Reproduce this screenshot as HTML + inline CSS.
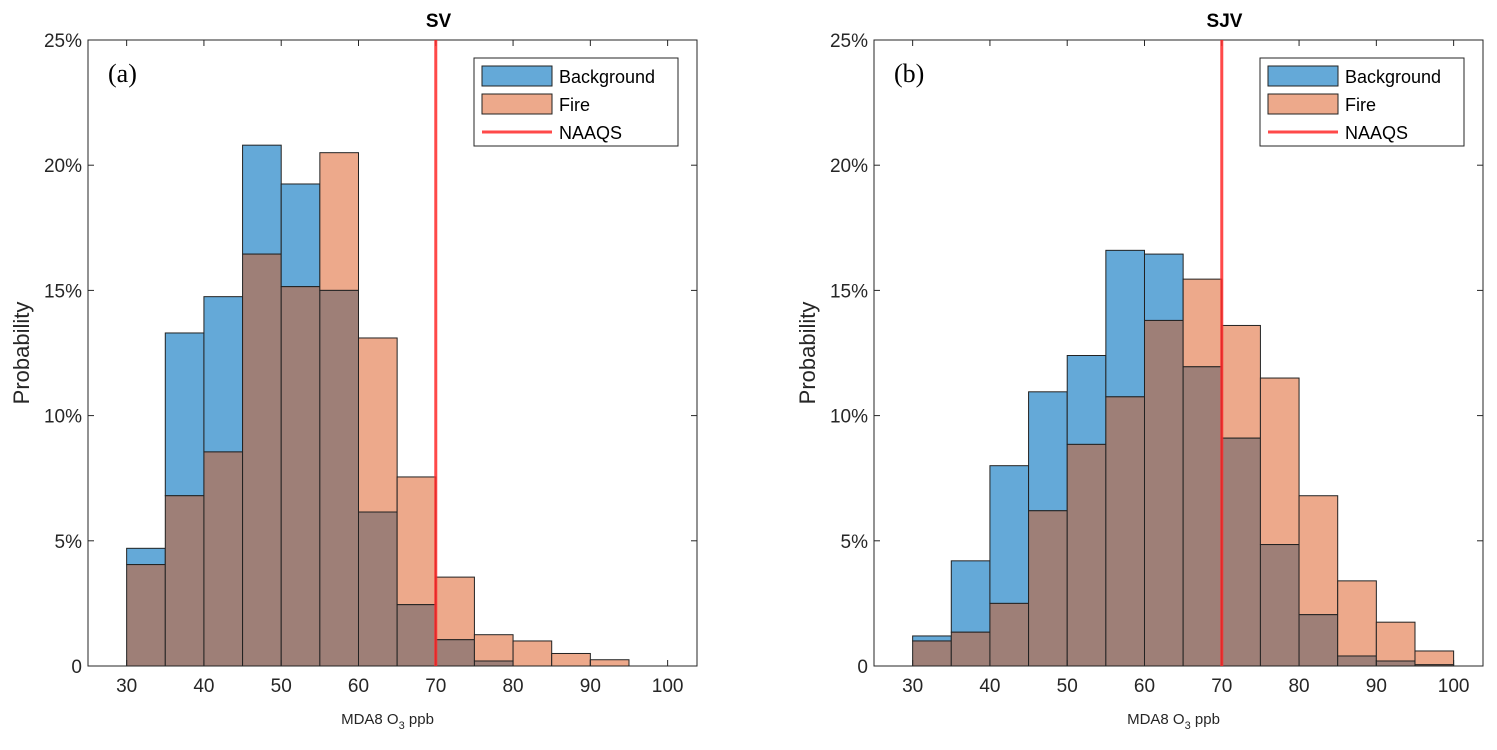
<!DOCTYPE html>
<html><head><meta charset="utf-8"><style>
body{margin:0;background:#fff}
svg{display:block;font-family:"Liberation Sans",Arial,sans-serif}
</style></head><body>
<svg id="chart" width="1497" height="750"></svg>
<script>
const binStarts=[30,35,40,45,50,55,60,65,70,75,80,85,90,95];
const yTicks=[0,5,10,15,20,25];
const yTickLabels=["0","5%","10%","15%","20%","25%"];
const xTicks=[30,40,50,60,70,80,90,100];
const svBackground=[4.7,13.3,14.75,20.8,19.25,15.0,6.15,2.45,1.05,0.2,0,0,0,0];
const svFire=[4.05,6.8,8.55,16.45,15.15,20.5,13.1,7.55,3.55,1.25,1.0,0.5,0.25,0];
const sjvBackground=[1.2,4.2,8.0,10.95,12.4,16.6,16.45,11.95,9.1,4.85,2.05,0.4,0.2,0.05];
const sjvFire=[1.0,1.35,2.5,6.2,8.85,10.75,13.8,15.45,13.6,11.5,6.8,3.4,1.75,0.6];
const naaqs=70;
const panels=[
 {title:"SV",tag:"(a)",left:88,bg:svBackground,fire:svFire,id:"sv"},
 {title:"SJV",tag:"(b)",left:874,bg:sjvBackground,fire:sjvFire,id:"sjv"}
];
const NS="http://www.w3.org/2000/svg";
const svg=document.getElementById('chart');
function mk(tag,attrs,parent,text){const e=document.createElementNS(NS,tag);for(const k in attrs)e.setAttribute(k,attrs[k]);if(text!==undefined)e.textContent=text;(parent||svg).appendChild(e);return e;}
const axTop=40,axBottom=666,W=609,xMin=25,xMax=103.8;
panels.forEach(p=>{
 const g=mk('g',{});
 
 
 const xs=v=>p.left+(v-xMin)/(xMax-xMin)*W;
 const ys=v=>axBottom-v/25*(axBottom-axTop);
 const ax=mk('rect',{x:p.left,y:axTop,width:W,height:axBottom-axTop,fill:'#fff',stroke:'#262626','stroke-width':1},g);
 
 
 binStarts.forEach((b,i)=>{
  const x0=xs(b),x1=xs(b+5);
  const bgv=p.bg[i],fv=p.fire[i],mn=Math.min(bgv,fv);
  if(bgv>mn){const r=mk('rect',{x:x0,y:ys(bgv),width:x1-x0,height:ys(mn)-ys(bgv),fill:'#64a9d8',stroke:'#222','stroke-width':1},g);
   
   }
  if(fv>mn){const r=mk('rect',{x:x0,y:ys(fv),width:x1-x0,height:ys(mn)-ys(fv),fill:'#eda98b',stroke:'#222','stroke-width':1},g);
   
   }
  if(mn>0){const r=mk('rect',{x:x0,y:ys(mn),width:x1-x0,height:axBottom-ys(mn),fill:'#9e7f77',stroke:'#222','stroke-width':1},g);
   
   }
 });
 yTicks.forEach((t,i)=>{
  const y=ys(t);
  mk('line',{x1:p.left,x2:p.left+6,y1:y,y2:y,stroke:'#262626'},g);
  mk('line',{x1:p.left+W,x2:p.left+W-6,y1:y,y2:y,stroke:'#262626'},g);
  const tx=mk('text',{x:p.left-6,y:y+7,'text-anchor':'end','font-size':19,fill:'#262626'},g,yTickLabels[i]);
  
  
 });
 xTicks.forEach(t=>{
  const x=xs(t);
  mk('line',{x1:x,x2:x,y1:axBottom,y2:axBottom-6,stroke:'#262626'},g);
  mk('line',{x1:x,x2:x,y1:axTop,y2:axTop+6,stroke:'#262626'},g);
  const tx=mk('text',{x:x,y:axBottom+26,'text-anchor':'middle','font-size':19,fill:'#262626'},g,t);
  
  
 });
 const nl=mk('line',{x1:xs(naaqs),x2:xs(naaqs),y1:axTop,y2:axBottom,stroke:'#ff2a2a','stroke-width':3,opacity:0.85},g);
 
 
 const ti=mk('text',{x:p.left+W/2+46,y:27,'text-anchor':'middle','font-size':19,'font-weight':'bold',fill:'#000'},g,p.title);
 
 
 const tg=mk('text',{x:p.left+20,y:82,'font-size':26,'font-family':'Liberation Serif,serif',fill:'#000'},g,p.tag);
 
 
 const yl=mk('text',{x:0,y:0,transform:`translate(${p.left-59},353) rotate(-90)`,'text-anchor':'middle','font-size':22,fill:'#262626'},g,'Probability');
 
 
 const xl=mk('text',{x:p.left+W/2-5,y:724,'text-anchor':'middle','font-size':15,fill:'#262626'},g);
 
 
 xl.innerHTML='MDA8 O<tspan dy="5" font-size="11">3</tspan><tspan dy="-5"> ppb</tspan>';
 const lx=p.left+386,ly=58;
 const lg=mk('g',{},g);
 
 
 mk('rect',{x:lx,y:ly,width:204,height:88,fill:'#fff',stroke:'#262626'},lg);
 const entries=[['Background','#64a9d8'],['Fire','#eda98b'],['NAAQS',null]];
 entries.forEach((e,i)=>{
  const cy=ly+18+i*28;
  if(e[1]){mk('rect',{x:lx+8,y:cy-10,width:70,height:20,fill:e[1],stroke:'#222'},lg);}
  else{mk('line',{x1:lx+8,x2:lx+78,y1:cy,y2:cy,stroke:'#ff2a2a','stroke-width':3,opacity:0.85},lg);}
  const t=mk('text',{x:lx+85,y:cy+7,'font-size':18,fill:'#000'},lg,e[0]);
  
  
 });
});
</script>
</body></html>
